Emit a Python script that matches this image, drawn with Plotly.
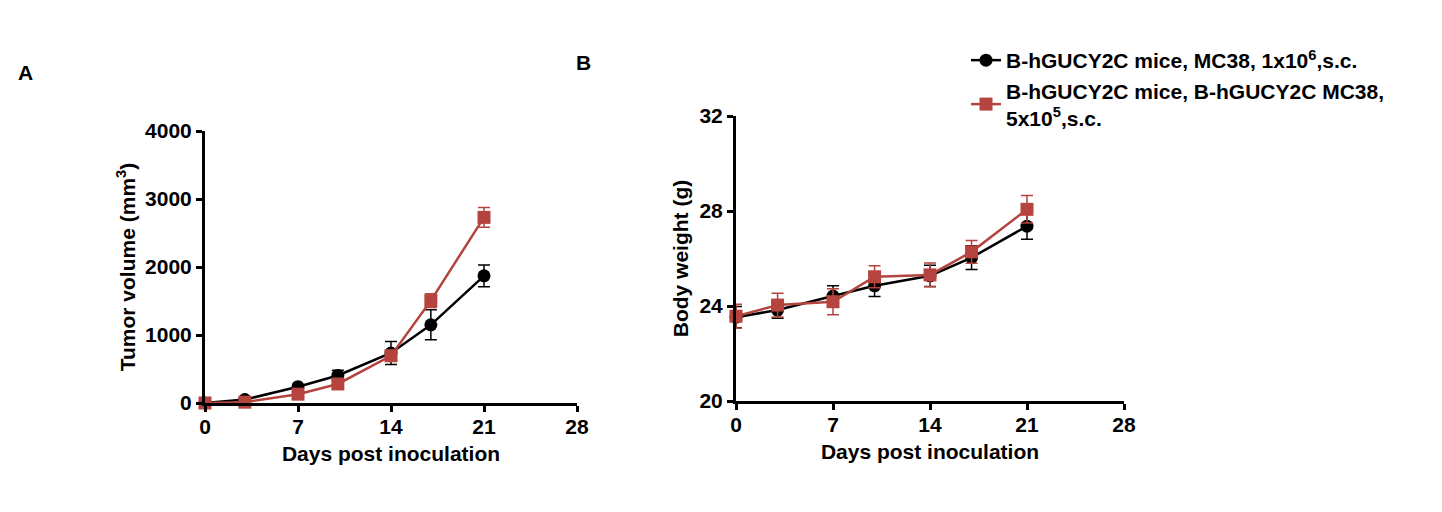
import plotly.graph_objects as go

days = [0, 3, 7, 10, 14, 17, 21]

# Panel A: tumor volume (mm^3)
vol_black = [0, 50, 240, 405, 735, 1150, 1870]
vol_black_err = [0, 15, 30, 75, 170, 220, 160]
vol_red = [0, 12, 130, 280, 695, 1505, 2730]
vol_red_err = [0, 10, 25, 40, 60, 100, 145]

# Panel B: body weight (g)
bw_black = [23.53, 23.83, 24.42, 24.85, 25.27, 26.04, 27.36]
bw_black_err = [0.45, 0.35, 0.43, 0.45, 0.45, 0.5, 0.55]
bw_red = [23.57, 24.04, 24.18, 25.23, 25.31, 26.28, 28.07]
bw_red_err = [0.5, 0.5, 0.55, 0.46, 0.5, 0.48, 0.58]

name_black = "B-hGUCY2C mice, MC38, 1x10<sup>6</sup>,s.c."
name_red = "B-hGUCY2C mice, B-hGUCY2C MC38,<br>5x10<sup>5</sup>,s.c."

BLACK = "#000000"
RED = "#B5433E"
FONT = "Liberation Sans, Arial, sans-serif"

fig = go.Figure()

def add(x, y, err, color, symbol, name, xa, ya, show):
    fig.add_trace(go.Scatter(
        x=x, y=y, mode="lines+markers", name=name, showlegend=show,
        xaxis=xa, yaxis=ya, cliponaxis=False,
        line=dict(color=color, width=2.5),
        marker=dict(color=color, symbol=symbol, size=13),
        error_y=dict(type="data", array=err, visible=True, color=color,
                     thickness=1.5, width=6),
    ))

add(days, vol_black, vol_black_err, BLACK, "circle", name_black, "x", "y", True)
add(days, vol_red, vol_red_err, RED, "square", name_red, "x", "y", True)
add(days, bw_black, bw_black_err, BLACK, "circle", name_black, "x2", "y2", False)
add(days, bw_red, bw_red_err, RED, "square", name_red, "x2", "y2", False)

W, H = 1442, 512
OX, OY = 8, 8  # page body offset


def fx(px):
    return (px - OX) / W


def fy(py):
    return (H - (py - OY)) / H


axis_common = dict(
    showline=True, linecolor="black", linewidth=3, ticks="outside",
    ticklen=6, tickwidth=3, tickcolor="black", showgrid=False, zeroline=False,
    automargin=False,
    tickfont=dict(family=FONT, size=21, color="black", weight="bold"),
)

xtick = dict(tickmode="array", tickvals=[0, 7, 14, 21, 28], ticklabelstandoff=-3)
title_font = dict(family=FONT, size=21, weight="bold", color="black")

fig.update_layout(
    width=W, height=H,
    margin=dict(l=0, r=0, t=0, b=0, autoexpand=False),
    paper_bgcolor="white", plot_bgcolor="white",
    font=dict(family=FONT, color="black", weight="bold"),
    xaxis=dict(**axis_common, **xtick, range=[0, 28],
               domain=[fx(205), fx(577)], anchor="y",
               title=dict(text="Days post inoculation", standoff=10, font=title_font)),
    yaxis=dict(**axis_common, range=[0, 4000], tickvals=[0, 1000, 2000, 3000, 4000],
               domain=[fy(403), fy(131)], anchor="x",
               title=dict(text="Tumor volume (mm<sup>3</sup>)", standoff=4, font=title_font)),
    xaxis2=dict(**axis_common, **xtick, range=[0, 28],
                domain=[fx(736), fx(1124)], anchor="y2",
                title=dict(text="Days post inoculation", standoff=10, font=title_font)),
    yaxis2=dict(**axis_common, range=[20, 32], tickvals=[20, 24, 28, 32],
                domain=[fy(401), fy(116)], anchor="x2",
                title=dict(text="Body weight (g)", standoff=6, font=title_font)),
    legend=dict(x=fx(966), y=fy(40), xanchor="left", yanchor="top",
                font=dict(family=FONT, size=21, color="black", weight="bold"),
                bgcolor="rgba(0,0,0,0)", itemwidth=30),
    annotations=[
        dict(text="A", x=fx(25), y=fy(72), xref="paper", yref="paper",
             showarrow=False, xanchor="center", yanchor="middle",
             font=dict(family=FONT, size=21, weight="bold", color="black")),
        dict(text="B", x=fx(583), y=fy(62), xref="paper", yref="paper",
             showarrow=False, xanchor="center", yanchor="middle",
             font=dict(family=FONT, size=21, weight="bold", color="black")),
    ],
)

fig.write_html("out.html")
